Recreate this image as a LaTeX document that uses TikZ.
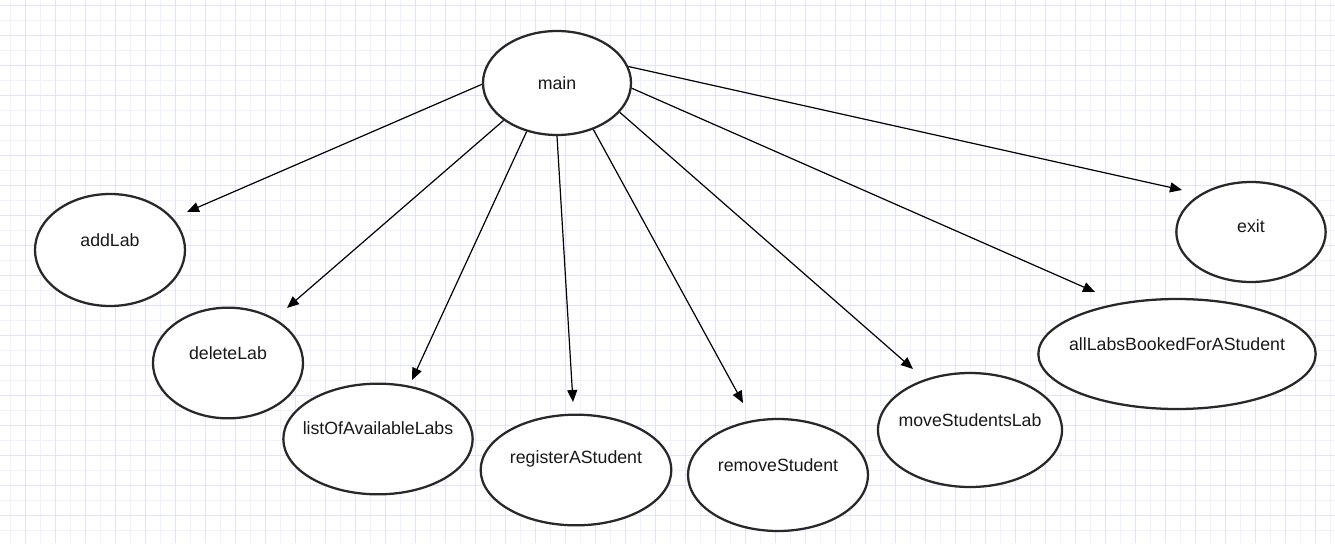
\documentclass[tikz,border=0pt]{standalone}
\usepackage{fontspec}
\setmainfont{Liberation Sans}
\usetikzlibrary{arrows.meta,shapes.geometric}
\definecolor{gridminor}{RGB}{240,240,255}
\definecolor{gridmajor}{RGB}{226,226,255}
\definecolor{txt}{RGB}{25,25,25}
\definecolor{edge}{RGB}{40,40,40}
\tikzset{
  fn/.style={ellipse, draw=edge, line width=1.7pt, fill=white, inner sep=0pt},
  lbl/.style={font=\fontsize{13.3}{16}\selectfont, text=txt},
  call/.style={draw=black, line width=0.9pt, -{Triangle[length=9pt,width=7.5pt]}},
}
\begin{document}
\begin{tikzpicture}[x=0.75pt,y=-0.75pt]
\fill[white] (0,0) rectangle (1335,543);
\useasboundingbox (0,0) rectangle (1335,543);
% grid
\foreach \x in {10,40,...,1335} \draw[gridminor,line width=0.75pt] (\x,0) -- (\x,543);
\foreach \y in {20,50,...,543} \draw[gridminor,line width=0.75pt] (0,\y) -- (1335,\y);
\foreach \x in {25,55,...,1335} \draw[gridmajor,line width=0.75pt] (\x,0) -- (\x,543);
\foreach \y in {5,35,...,543} \draw[gridmajor,line width=0.75pt] (0,\y) -- (1335,\y);
% nodes
\node[fn, minimum width=111pt, minimum height=78pt, label={[lbl]center:main}] (main) at (557,83) {};
\node[fn, minimum width=112.5pt, minimum height=84pt, label={[lbl,yshift=7.5pt]center:addLab}] (addLab) at (110,250) {};
\node[fn, minimum width=112.5pt, minimum height=83pt, label={[lbl,yshift=7.5pt]center:deleteLab}] (deleteLab) at (228,363) {};
\node[fn, minimum width=142pt, minimum height=83pt, label={[lbl,yshift=8pt]center:listOfAvailableLabs}] (list) at (378,439) {};
\node[fn, minimum width=143pt, minimum height=83pt, label={[lbl,yshift=8pt]center:registerAStudent}] (register) at (576,470) {};
\node[fn, minimum width=135pt, minimum height=84pt, label={[lbl,yshift=7.5pt]center:removeStudent}] (remove) at (778,475) {};
\node[fn, minimum width=138pt, minimum height=85.5pt, label={[lbl,yshift=7.5pt]center:moveStudentsLab}] (move) at (970,430) {};
\node[fn, minimum width=208pt, minimum height=82.5pt, label={[lbl,yshift=7.5pt]center:allLabsBookedForAStudent}] (allLabs) at (1177,354) {};
\node[fn, minimum width=112pt, minimum height=75pt, label={[lbl,yshift=4.5pt]center:exit}] (exit) at (1251,232) {};
% arrow tip positions
\coordinate (tAdd) at (187,212);
\coordinate (tDel) at (287,308);
\coordinate (tList) at (412,380);
\coordinate (tReg) at (573,402);
\coordinate (tRem) at (743,403);
\coordinate (tMove) at (913,369);
\coordinate (tAll) at (1095,292);
\coordinate (tExit) at (1182,190);
% connectors
\draw[call] (main.181) -- (tAdd);
\draw[call] (main.215) -- (tDel);
\draw[call] (main.238) -- (tList);
\draw[call] (main.270) -- (tReg);
\draw[call] (main.308) -- (tRem);
\draw[call] (main.335) -- (tMove);
\draw[call] (main.356) -- (tAll);
\draw[call] (main.13) -- (tExit);
\end{tikzpicture}
\end{document}
